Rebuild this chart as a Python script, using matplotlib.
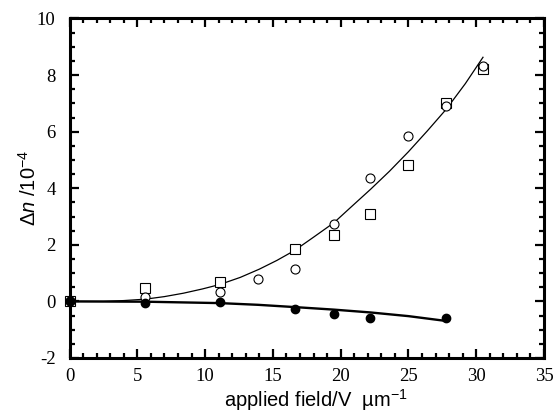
import numpy as np
import matplotlib
matplotlib.use("Agg")
import matplotlib.pyplot as plt
from matplotlib.ticker import MultipleLocator

# open squares
sq_x = [0, 5.6, 11.1, 16.6, 19.5, 22.2, 25.0, 27.8, 30.5]
sq_y = [0, 0.46, 0.69, 1.86, 2.36, 3.08, 4.82, 7.0, 8.21]

# open circles
oc_x = [0, 5.6, 11.1, 13.9, 16.6, 19.5, 22.2, 25.0, 27.8, 30.5]
oc_y = [0, 0.17, 0.33, 0.80, 1.14, 2.74, 4.35, 5.84, 6.90, 8.32]

# filled circles
fc_x = [0, 5.6, 11.1, 16.6, 19.5, 22.2, 27.8]
fc_y = [0, -0.04, -0.02, -0.27, -0.44, -0.57, -0.57]

# fitted curves
up_x = [0, 2.5, 4.0, 5.6, 7.0, 8.4, 9.8, 11.1, 12.6, 14.0, 15.3, 16.6, 18.0,
        19.5, 20.8, 22.2, 23.6, 25.0, 26.4, 27.8, 29.2, 30.5]
up_y = [0, 0.0, 0.03, 0.08, 0.17, 0.29, 0.44, 0.60, 0.85, 1.14, 1.45, 1.80, 2.27,
        2.78, 3.35, 3.96, 4.60, 5.29, 6.03, 6.80, 7.70, 8.63]
lo_x = [0, 5.6, 11.1, 13.9, 16.6, 19.5, 22.2, 25.0, 27.6]
lo_y = [0, -0.01, -0.06, -0.12, -0.20, -0.29, -0.39, -0.52, -0.68]

plt.rcParams['axes.unicode_minus'] = False
plt.rcParams['mathtext.fontset'] = 'custom'
plt.rcParams['mathtext.rm'] = 'Liberation Sans'
plt.rcParams['mathtext.it'] = 'Liberation Sans:italic'

fig = plt.figure(figsize=(5.54, 4.12), dpi=100)
ax = fig.add_axes([69.5 / 554, 54 / 412, 474.5 / 554, 339.5 / 412])

ax.plot(up_x, up_y, color='black', lw=0.9, zorder=2)
ax.plot(lo_x, lo_y, color='black', lw=1.7, zorder=2)

ax.plot(sq_x, sq_y, ls='none', marker='s', ms=7, mfc='white', mec='black',
        mew=0.8, clip_on=False, zorder=3)
ax.plot(oc_x, oc_y, ls='none', marker='o', ms=6.5, mfc='white', mec='black',
        mew=0.8, clip_on=False, zorder=3)
ax.plot(fc_x, fc_y, ls='none', marker='o', ms=6, mfc='black', mec='black',
        clip_on=False, zorder=4)

ax.set_xlim(0, 35)
ax.set_ylim(-2, 10)
ax.xaxis.set_major_locator(MultipleLocator(5))
ax.xaxis.set_minor_locator(MultipleLocator(1))
ax.yaxis.set_major_locator(MultipleLocator(2))
ax.yaxis.set_minor_locator(MultipleLocator(0.5))

ax.tick_params(which='both', direction='in', top=True, right=True, width=1.6)
ax.tick_params(which='major', length=6.5)
ax.tick_params(which='minor', length=3.5)
ax.tick_params(axis='x', pad=7)
ax.tick_params(axis='y', pad=10)
for spine in ax.spines.values():
    spine.set_linewidth(2.2)

for lab in ax.get_xticklabels() + ax.get_yticklabels():
    lab.set_fontfamily('Liberation Serif')
    lab.set_fontsize(13.5)

ax.set_xlabel('applied field/V  µm$^{-1}$', family='Liberation Sans',
              fontsize=14.5, labelpad=0)
ax.xaxis.set_label_coords(0.52, -0.085)
ax.set_ylabel(r'$\Delta n$ /10$^{-4}$', family='Liberation Sans',
              fontsize=14.5, labelpad=-2)

fig.savefig('out.png', dpi=100)
